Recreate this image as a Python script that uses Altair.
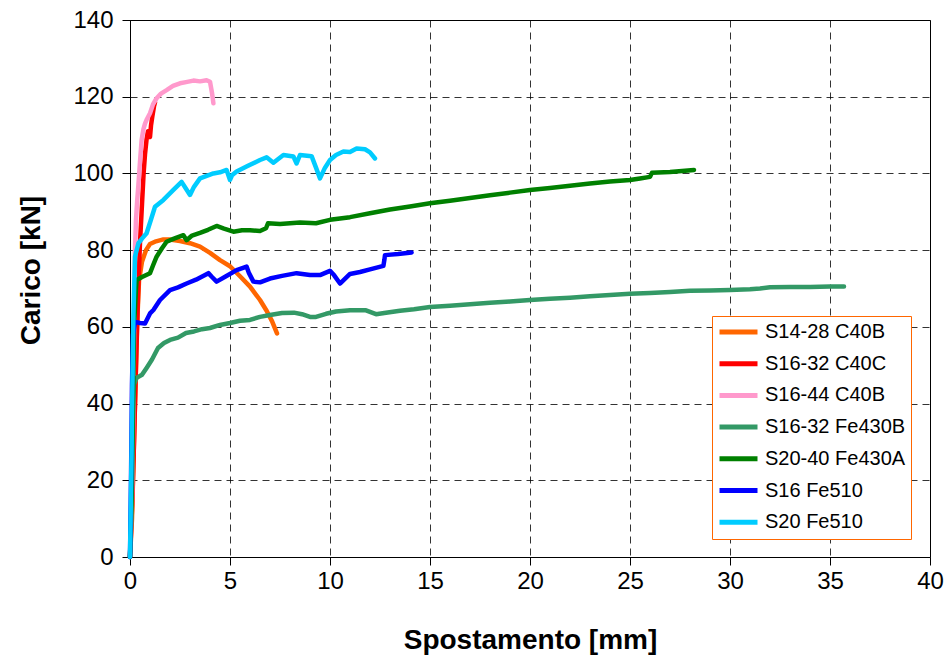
import altair as alt
import pandas as pd

names = ["S14-28 C40B", "S16-32 C40C", "S16-44 C40B", "S16-32 Fe430B",
         "S20-40 Fe430A", "S16 Fe510", "S20 Fe510"]
colors = ["#FF6600", "#FF0000", "#FF99CC", "#339966", "#008000", "#0000FF", "#00CCFF"]

x_s14_28_c40b = [0.0, 0.1, 0.2, 0.3, 0.35, 0.45, 0.6, 0.8, 1.0, 1.3, 1.67, 2.0, 2.5, 3.0,
                 3.5, 4.0, 4.5, 5.0, 5.5, 6.0, 6.5, 6.83, 7.1, 7.35]
y_s14_28_c40b = [0, 10, 30, 50, 60, 72, 77, 80, 81.6, 82.3, 82.8, 82.8, 82.4, 81.8,
                 80.9, 79.3, 77.4, 75.8, 73.2, 70.5, 67.0, 64.2, 61.5, 58.3]

x_s16_32_c40c = [0.0, 0.12, 0.2, 0.3, 0.4, 0.5, 0.6, 0.68, 0.75, 0.83, 0.9, 0.95, 1.0,
                 1.05, 1.12, 1.2, 1.25]
y_s16_32_c40c = [0, 15, 30, 50, 68, 82, 92, 100, 105, 109, 111, 110, 109.5,
                 112.5, 115, 117.5, 118.5]

x_s16_44_c40b = [0.0, 0.1, 0.15, 0.2, 0.25, 0.3, 0.36, 0.42, 0.5, 0.58, 0.67, 0.75, 0.85,
                 1.0, 1.15, 1.33, 1.55, 1.83, 2.15, 2.5, 2.8, 3.17, 3.5, 3.83, 4.0, 4.1, 4.17]
y_s16_44_c40b = [0, 15, 30, 55, 80, 88, 93, 97, 103, 108.7, 111.5, 113, 114.2,
                 115.7, 118, 119.6, 120.8, 121.7, 122.8, 123.5, 123.8, 124.2, 124.0, 124.3,
                 123.9, 121.0, 118.3]

x_s16_32_fe430b = [0.0, 0.05, 0.1, 0.15, 0.2, 0.33, 0.6, 0.83, 1.1, 1.4, 1.7, 2.0, 2.4, 2.8,
                   3.2, 3.6, 4.0, 4.5, 5.0, 5.5, 6.0, 6.5, 7.0, 7.6, 8.2, 8.6, 9.0, 9.3,
                   9.8, 10.3, 11.0, 11.8, 12.3, 12.8, 13.5, 14.2, 15.0, 16.0, 17.0, 18.0,
                   19.0, 20.0, 21.0, 22.0, 23.0, 24.0, 25.0, 26.0, 27.0, 28.0, 29.0, 30.0,
                   31.0, 31.5, 32.0, 33.0, 34.0, 35.0, 35.7]
y_s16_32_fe430b = [0, 10, 25, 38, 45, 46.7, 47.5, 49.3, 51.5, 54.5, 55.8, 56.6, 57.2, 58.4,
                   58.8, 59.4, 59.7, 60.5, 61.0, 61.6, 61.8, 62.6, 63.1, 63.6, 63.7, 63.3,
                   62.6, 62.6, 63.4, 64.0, 64.3, 64.3, 63.3, 63.7, 64.2, 64.6, 65.2, 65.5,
                   65.9, 66.3, 66.6, 67.0, 67.3, 67.6, 68.0, 68.3, 68.6, 68.8, 69.1, 69.4,
                   69.5, 69.6, 69.8, 70.0, 70.3, 70.4, 70.4, 70.5, 70.5]

x_s20_40_fe430a = [0.0, 0.05, 0.1, 0.15, 0.2, 0.3, 0.33, 0.6, 1.0, 1.15, 1.33, 1.6, 1.83,
                   2.2, 2.67, 2.83, 3.1, 3.5, 3.9, 4.33, 4.7, 5.17, 5.6, 6.0, 6.5, 6.8,
                   6.9, 7.5, 8.0, 8.5, 9.3, 10.0, 11.0, 12.0, 13.0, 14.0, 15.0, 16.0, 17.0,
                   18.0, 19.0, 20.0, 21.0, 22.0, 23.0, 24.0, 25.0, 25.5, 26.0, 26.1, 27.0,
                   28.2]
y_s20_40_fe430a = [0, 8, 20, 40, 60, 70, 72.2, 73.0, 74.0, 76.0, 78.3, 80.5, 82.2,
                   83.0, 83.9, 82.6, 83.8, 84.5, 85.3, 86.3, 85.6, 84.8, 85.2, 85.2, 85.0,
                   85.7, 87.0, 86.8, 87.0, 87.2, 87.0, 87.9, 88.6, 89.6, 90.6, 91.4, 92.2,
                   92.9, 93.6, 94.3, 95.0, 95.7, 96.2, 96.8, 97.4, 97.9, 98.3, 98.7, 99.1,
                   100.2, 100.4, 100.9]

x_s16_fe510 = [0.0, 0.05, 0.1, 0.15, 0.25, 0.5, 0.75, 1.0, 1.17, 1.5, 2.0, 2.4, 2.83, 3.3,
               3.92, 4.1, 4.33, 4.8, 5.33, 5.83, 5.95, 6.17, 6.5, 7.0, 7.6, 8.33, 9.0, 9.5,
               10.0, 10.2, 10.5, 11.0, 11.5, 12.0, 12.67, 12.72, 12.75, 13.4, 14.08]
y_s16_fe510 = [0, 20, 45, 58, 61.3, 61.0, 60.9, 63.5, 64.4, 67.0, 69.6, 70.3, 71.3, 72.3,
               74.0, 73.0, 71.8, 73.2, 74.8, 75.7, 74.0, 71.8, 71.6, 72.6, 73.3, 74.0, 73.5,
               73.5, 74.6, 73.5, 71.3, 73.8, 74.3, 75.0, 75.9, 77.5, 78.7, 79.0, 79.4]

x_s20_fe510 = [0.0, 0.08, 0.12, 0.17, 0.25, 0.42, 0.6, 0.83, 1.05, 1.25, 1.67, 2.17, 2.58,
               2.8, 3.0, 3.2, 3.5, 3.8, 4.17, 4.5, 4.83, 5.0, 5.1, 5.33, 5.9, 6.5, 6.83,
               7.17, 7.67, 8.17, 8.33, 8.5, 9.08, 9.3, 9.5, 9.75, 10.0, 10.3, 10.67, 11.0,
               11.33, 11.75, 12.0, 12.25]
y_s20_fe510 = [0, 28, 45, 62.6, 78.3, 81.8, 83.0, 84.4, 88.0, 91.3, 93.1, 95.7, 97.8,
               96.0, 94.4, 96.5, 98.7, 99.3, 100.0, 100.3, 100.9, 98.3, 99.5, 100.5, 102.0,
               103.5, 104.2, 102.8, 104.8, 104.4, 102.6, 104.8, 104.5, 101.5, 98.7, 101.5,
               103.5, 104.8, 105.7, 105.6, 106.5, 106.3, 105.5, 103.9]

x_ticks = [0, 5, 10, 15, 20, 25, 30, 35, 40]
y_ticks = [0, 20, 40, 60, 80, 100, 120, 140]

series = [
    (names[0], x_s14_28_c40b, y_s14_28_c40b),
    (names[1], x_s16_32_c40c, y_s16_32_c40c),
    (names[2], x_s16_44_c40b, y_s16_44_c40b),
    (names[3], x_s16_32_fe430b, y_s16_32_fe430b),
    (names[4], x_s20_40_fe430a, y_s20_40_fe430a),
    (names[5], x_s16_fe510, y_s16_fe510),
    (names[6], x_s20_fe510, y_s20_fe510),
]

FONT = "Liberation Sans"

color_scale = alt.Scale(domain=names, range=colors)
legend = alt.Legend(
    title=None, orient="none", legendX=582, legendY=296,
    padding=5, strokeColor="#FF6600", fillColor="white",
    symbolType="stroke", symbolStrokeWidth=5, symbolSize=1444,
    clipHeight=22, rowPadding=9.7, labelOffset=5,
    labelFont=FONT, labelFontSize=20, labelColor="#000",
    labelLimit=300,
)

x_axis = alt.Axis(
    values=x_ticks, title="Spostamento [mm]",
    labelFont=FONT, labelFontSize=24, labelColor="#000", labelPadding=4,
    tickSize=8, tickColor="#000", domainColor="#000",
    grid=True, gridColor="#000", gridDash=[7, 5], gridOpacity=0.8,
    titleFont=FONT, titleFontSize=28, titleFontWeight="bold", titleColor="#000",
    titleX=400, titleY=91, titleBaseline="alphabetic", titleAnchor="middle",
    labelFlush=False,
)
y_axis = alt.Axis(
    values=y_ticks, title="Carico [kN]",
    labelFont=FONT, labelFontSize=24, labelColor="#000", labelPadding=9,
    tickSize=8, tickColor="#000", domainColor="#000",
    grid=True, gridColor="#000", gridDash=[7, 5], gridOpacity=0.8,
    titleFont=FONT, titleFontSize=28, titleFontWeight="bold", titleColor="#000",
    titleX=-99, titleY=250, titleBaseline="middle", titleAlign="center",
    labelFlush=False,
)

layers = []
for i, (name, xs, ys) in enumerate(series):
    df = pd.DataFrame({"x": xs, "y": ys, "serie": name, "i": range(len(xs))})
    layers.append(
        alt.Chart(df).mark_line(strokeWidth=4.5, strokeCap="round", strokeJoin="round").encode(
            x=alt.X("x:Q", scale=alt.Scale(domain=[0, 40], nice=False), axis=x_axis),
            y=alt.Y("y:Q", scale=alt.Scale(domain=[0, 140], nice=False), axis=y_axis),
            color=alt.Color("serie:N", scale=color_scale, legend=legend),
            order=alt.Order("i:Q"),
        )
    )

chart = alt.layer(*layers).properties(
    width=800, height=537,
    autosize=alt.AutoSizeParams(type="none"),
    padding={"left": 130, "top": 20, "right": 14, "bottom": 98},
    background="white",
).configure_view(stroke="#000", strokeWidth=1)

chart.save("out.html", embed_options={"renderer": "svg", "actions": False})
